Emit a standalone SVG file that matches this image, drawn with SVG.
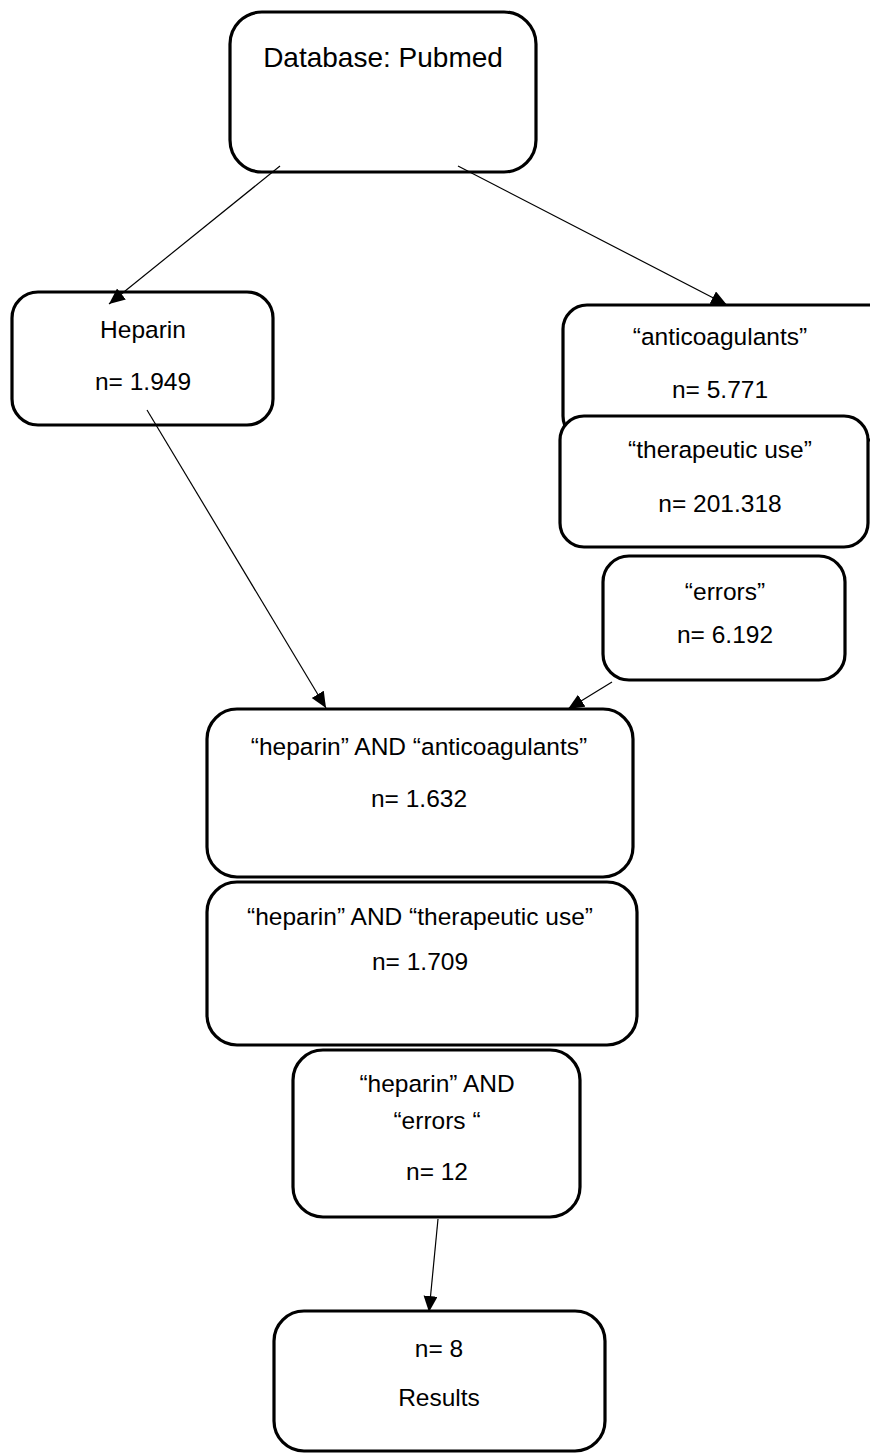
<svg xmlns="http://www.w3.org/2000/svg" width="870" height="1454" viewBox="0 0 870 1454">
<style>
.box{fill:#fff;stroke:#000;stroke-width:3.2}
.t{font-family:"Liberation Sans",Arial,sans-serif;font-size:24.5px;fill:#000;text-anchor:middle}
.big{font-size:28px}
.c{stroke:#000;stroke-width:1.2;fill:none;marker-end:url(#ah)}
</style>
<defs>
<marker id="ah" markerUnits="userSpaceOnUse" markerWidth="18" markerHeight="16" refX="16" refY="7" orient="auto">
<path d="M0,0 L16,7 L0,14 z" fill="#000"/>
</marker>
</defs>
<rect width="870" height="1454" fill="#fff"/>
<g id="n-db">
<rect class="box" x="230" y="12" width="306" height="160" rx="32"/>
<text class="t big" x="383" y="67">Database: Pubmed</text>
</g>
<g id="n-heparin">
<rect class="box" x="12" y="292" width="261" height="133" rx="26"/>
<text class="t" x="143" y="338">Heparin</text>
<text class="t" x="143" y="390">n= 1.949</text>
</g>
<g id="n-anticoag">
<rect class="box" x="563" y="305" width="345" height="135" rx="24"/>
<text class="t" x="720" y="345">“anticoagulants”</text>
<text class="t" x="720" y="398">n= 5.771</text>
</g>
<g id="n-therapeutic">
<rect class="box" x="560" y="416" width="308" height="131" rx="24"/>
<text class="t" x="720" y="458">“therapeutic use”</text>
<text class="t" x="720" y="512">n= 201.318</text>
</g>
<g id="n-errors">
<rect class="box" x="603" y="556" width="242" height="124" rx="26"/>
<text class="t" x="725" y="600">“errors”</text>
<text class="t" x="725" y="643">n= 6.192</text>
</g>
<g id="n-hep-anticoag">
<rect class="box" x="207" y="709" width="426" height="168" rx="30"/>
<text class="t" x="419" y="755">“heparin” AND “anticoagulants”</text>
<text class="t" x="419" y="807">n= 1.632</text>
</g>
<g id="n-hep-therapeutic">
<rect class="box" x="207" y="882" width="430" height="163" rx="30"/>
<text class="t" x="420" y="925">“heparin” AND “therapeutic use”</text>
<text class="t" x="420" y="970">n= 1.709</text>
</g>
<g id="n-hep-errors">
<rect class="box" x="293" y="1050" width="287" height="167" rx="30"/>
<text class="t" x="437" y="1092">“heparin” AND</text>
<text class="t" x="437" y="1129">“errors “</text>
<text class="t" x="437" y="1180">n= 12</text>
</g>
<g id="n-results">
<rect class="box" x="274" y="1311" width="331" height="140" rx="30"/>
<text class="t" x="439" y="1357">n= 8</text>
<text class="t" x="439" y="1406">Results</text>
</g>
<g id="connectors">
<line class="c" x1="280" y1="166" x2="109" y2="304"/>
<line class="c" x1="458" y1="166" x2="727" y2="305"/>
<line class="c" x1="147" y1="410" x2="326" y2="708"/>
<line class="c" x1="612" y1="682" x2="568" y2="709"/>
<line class="c" x1="438" y1="1219" x2="429" y2="1312"/>
</g>
</svg>
